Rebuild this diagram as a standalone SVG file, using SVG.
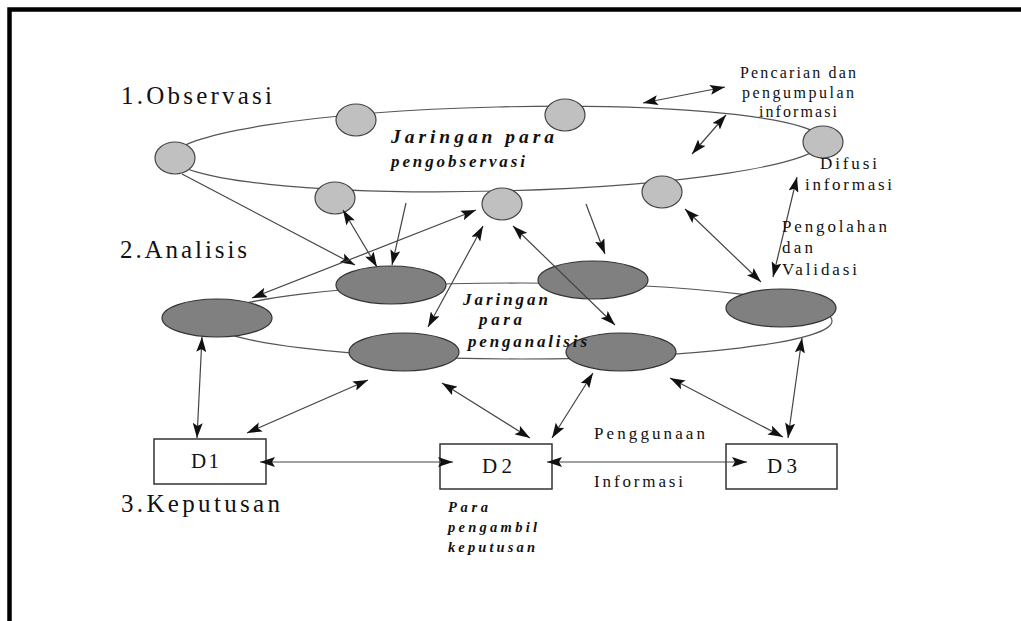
<svg xmlns="http://www.w3.org/2000/svg" width="1021" height="621" viewBox="0 0 1021 621">
<defs>
<style>
.frame{fill:none;stroke:#000;stroke-width:4.5}
.ring{fill:none;stroke:#555;stroke-width:1.2}
.obs{fill:#c0c0c0;stroke:#444;stroke-width:1.2}
.ana{fill:#808080;stroke:#333;stroke-width:1.2}
.box{fill:#fff;stroke:#333;stroke-width:1.5}
.c{fill:none;stroke:#444;stroke-width:1.2}
.d{marker-start:url(#ah);marker-end:url(#ah)}
.s{marker-end:url(#ah)}
text{font-family:"Liberation Serif","Times New Roman",serif;fill:#111}
.h{font-size:25px}
.bx{font-size:21px}
.lb{font-size:16px}
.lb2{font-size:17px}
.bi{font-weight:bold;font-style:italic}
</style>
<marker id="ah" viewBox="0 0 15 10" refX="15" refY="5" markerWidth="15" markerHeight="10" markerUnits="userSpaceOnUse" orient="auto-start-reverse">
<path d="M0,0 L15,5 L0,10 L3,5 z" fill="#111"/>
</marker>
</defs>
<rect width="1021" height="621" fill="#fff"/>
<path class="frame" d="M9.5,621 V9.5 H1021"/>

<g id="networks">
<ellipse class="ring" cx="498" cy="149" rx="325" ry="42" transform="rotate(-1.4 498 149)"/>
<ellipse class="ring" cx="521" cy="321" rx="311" ry="38"/>
</g>

<g id="obs1"><ellipse class="obs" cx="175" cy="158" rx="20" ry="16"/></g>
<g id="obs2"><ellipse class="obs" cx="356" cy="120" rx="20" ry="16"/></g>
<g id="obs3"><ellipse class="obs" cx="565" cy="115" rx="20" ry="16"/></g>
<g id="obs4"><ellipse class="obs" cx="823" cy="142" rx="20" ry="16"/></g>
<g id="obs5"><ellipse class="obs" cx="335" cy="198" rx="20" ry="16"/></g>
<g id="obs6"><ellipse class="obs" cx="502" cy="204" rx="20" ry="16"/></g>
<g id="obs7"><ellipse class="obs" cx="662" cy="192" rx="20" ry="16"/></g>

<g id="ana1"><ellipse class="ana" cx="217" cy="318" rx="55" ry="19"/></g>
<g id="ana2"><ellipse class="ana" cx="391" cy="285" rx="55" ry="19"/></g>
<g id="ana3"><ellipse class="ana" cx="404" cy="352" rx="55" ry="19"/></g>
<g id="ana4"><ellipse class="ana" cx="593" cy="280" rx="55" ry="19"/></g>
<g id="ana5"><ellipse class="ana" cx="621" cy="352" rx="55" ry="19"/></g>
<g id="ana6"><ellipse class="ana" cx="781" cy="308" rx="55" ry="19"/></g>

<g id="D1"><rect class="box" x="154" y="439" width="112" height="45"/><text class="bx" x="191" y="468" textLength="28" lengthAdjust="spacing">D1</text></g>
<g id="D2"><rect class="box" x="440" y="444" width="112" height="45"/><text class="bx" x="482" y="473" textLength="30" lengthAdjust="spacing">D2</text></g>
<g id="D3"><rect class="box" x="726" y="444" width="111" height="45"/><text class="bx" x="767" y="473" textLength="30" lengthAdjust="spacing">D3</text></g>

<g id="connectors">
<line class="c d" x1="643" y1="103" x2="725" y2="87"/>
<line class="c d" x1="692" y1="154" x2="726" y2="115"/>
<line class="c d" x1="797" y1="177" x2="773" y2="277"/>
<line class="c d" x1="685" y1="209" x2="761" y2="282"/>
<line class="c s" x1="586" y1="204" x2="605" y2="254"/>
<line class="c s" x1="182" y1="174" x2="355" y2="265"/>
<line class="c d" x1="343" y1="210" x2="377" y2="267"/>
<line class="c s" x1="406" y1="203" x2="392" y2="265"/>
<line class="c d" x1="252" y1="298" x2="476" y2="210"/>
<line class="c d" x1="483" y1="226" x2="428" y2="327"/>
<line class="c d" x1="513" y1="226" x2="615" y2="325"/>
<line class="c d" x1="202" y1="337" x2="197" y2="438"/>
<line class="c d" x1="368" y1="380" x2="247" y2="433"/>
<line class="c d" x1="442" y1="383" x2="530" y2="438"/>
<line class="c d" x1="593" y1="373" x2="552" y2="438"/>
<line class="c d" x1="670" y1="378" x2="783" y2="437"/>
<line class="c d" x1="802" y1="338" x2="788" y2="438"/>
<line class="c d" x1="260" y1="462" x2="453" y2="462"/>
<line class="c d" x1="547" y1="462" x2="747" y2="462"/>
</g>

<g id="labels">
<text class="h" x="121" y="104" textLength="151" lengthAdjust="spacing">1.Observasi</text>
<text class="h" x="120" y="258" textLength="127" lengthAdjust="spacing">2.Analisis</text>
<text class="h" x="121" y="512" textLength="159" lengthAdjust="spacing">3.Keputusan</text>

<text class="bi" x="391" y="143" font-size="19.5" textLength="163" lengthAdjust="spacing">Jaringan para</text>
<text class="bi" x="391" y="167" font-size="17" textLength="134" lengthAdjust="spacing">pengobservasi</text>

<text class="bi" x="463" y="305" font-size="17" textLength="85" lengthAdjust="spacing">Jaringan</text>
<text class="bi" x="479" y="325" font-size="17" textLength="43" lengthAdjust="spacing">para</text>
<text class="bi" x="468" y="347" font-size="17" textLength="119" lengthAdjust="spacing">penganalisis</text>

<text class="bi" x="448" y="512" font-size="14.5" textLength="40" lengthAdjust="spacing">Para</text>
<text class="bi" x="448" y="532" font-size="14.5" textLength="89" lengthAdjust="spacing">pengambil</text>
<text class="bi" x="448" y="552" font-size="14.5" textLength="87" lengthAdjust="spacing">keputusan</text>

<text class="lb" x="740" y="78" textLength="116" lengthAdjust="spacing">Pencarian dan</text>
<text class="lb" x="742" y="98" textLength="112" lengthAdjust="spacing">pengumpulan</text>
<text class="lb" x="759" y="117" textLength="78" lengthAdjust="spacing">informasi</text>

<text class="lb2" x="820" y="169" textLength="57" lengthAdjust="spacing">Difusi</text>
<text class="lb2" x="805" y="190" textLength="87" lengthAdjust="spacing">informasi</text>

<text class="lb2" x="782" y="232" textLength="105" lengthAdjust="spacing">Pengolahan</text>
<text class="lb2" x="782" y="253" textLength="31" lengthAdjust="spacing">dan</text>
<text class="lb2" x="782" y="275" textLength="75" lengthAdjust="spacing">Validasi</text>

<text class="lb2" x="594" y="439" textLength="111" lengthAdjust="spacing">Penggunaan</text>
<text class="lb2" x="594" y="487" textLength="89" lengthAdjust="spacing">Informasi</text>
</g>
</svg>
